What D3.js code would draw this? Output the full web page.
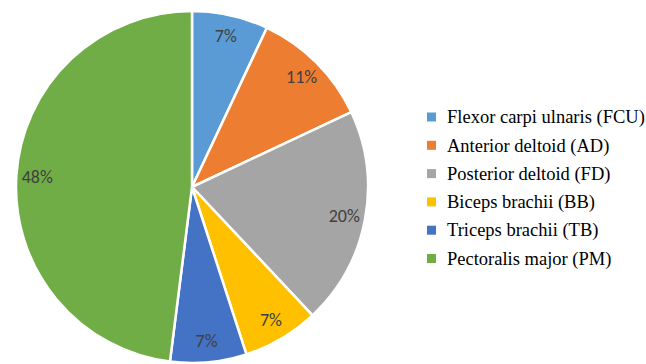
<!DOCTYPE html>
<html>
<head>
<meta charset="utf-8">
<script src="https://cdn.jsdelivr.net/npm/d3@7"></script>
<style>
  body { margin: 0; background: #fff; }
</style>
</head>
<body>
<div id="chart"></div>
<script>
// Muscle names and share of activation (percent)
const muscles = [
  "Flexor carpi ulnaris (FCU)",
  "Anterior deltoid (AD)",
  "Posterior deltoid (FD)",
  "Biceps brachii (BB)",
  "Triceps brachii (TB)",
  "Pectoralis major (PM)"
];
const shares = [7, 11, 20, 7, 7, 48];
const colors = ["#5B9BD5", "#ED7D31", "#A5A5A5", "#FFC000", "#4472C4", "#70AD47"];

const width = 646;
const height = 364;
const cx = 192, cy = 187, radius = 176;

const svg = d3.select("#chart")
    .append("svg")
    .attr("width", width)
    .attr("height", height);

const data = muscles.map((m, i) => ({ name: m, value: shares[i], color: colors[i] }));

const pie = d3.pie()
    .value(d => d.value)
    .sort(null);

const arc = d3.arc()
    .innerRadius(0)
    .outerRadius(radius);

const labelArc = d3.arc()
    .innerRadius(155)
    .outerRadius(155);

const g = svg.append("g")
    .attr("transform", `translate(${cx},${cy})`);

const arcs = pie(data);

// Slices
g.selectAll("path")
    .data(arcs)
    .enter()
    .append("path")
    .attr("d", arc)
    .attr("fill", d => d.data.color)
    .attr("stroke", "#fff")
    .attr("stroke-width", 2.5)
    .attr("stroke-linejoin", "round");

// Percent labels
g.selectAll("text.pct")
    .data(arcs)
    .enter()
    .append("text")
    .attr("class", "pct")
    .attr("transform", d => `translate(${labelArc.centroid(d)})`)
    .attr("text-anchor", "middle")
    .attr("dy", "0.33em")
    .attr("font-family", "Carlito")
    .attr("font-size", 18)
    .attr("fill", "#404040")
    .text(d => d.data.value + "%");

// Legend
const legend = svg.append("g")
    .attr("transform", "translate(427,117)");

const rowY = d3.scalePoint()
    .domain(muscles)
    .range([0, 141.5]);

const items = legend.selectAll("g")
    .data(data)
    .enter()
    .append("g")
    .attr("transform", d => `translate(0,${rowY(d.name)})`);

items.append("rect")
    .attr("x", 0)
    .attr("y", -4.5)
    .attr("width", 9)
    .attr("height", 9)
    .attr("fill", d => d.color);

items.append("text")
    .attr("x", 20)
    .attr("dy", "0.34em")
    .attr("font-family", "Liberation Serif")
    .attr("font-size", 18.5)
    .attr("fill", "#000")
    .text(d => d.name);
</script>
</body>
</html>
